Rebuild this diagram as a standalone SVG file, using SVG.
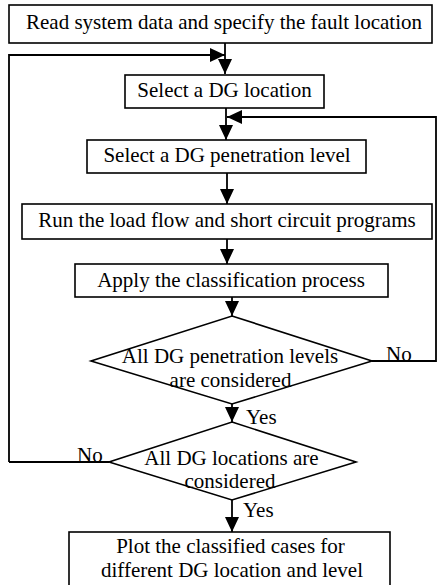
<svg xmlns="http://www.w3.org/2000/svg" width="437" height="585" viewBox="0 0 437 585">
<style>
.box{fill:#fff;stroke:#000;stroke-width:1.6}
text{font-family:'Liberation Serif','Times New Roman','DejaVu Serif',serif;font-size:21px;fill:#000}
.t{text-anchor:middle}
.c{fill:none;stroke:#000;stroke-width:1.8}
</style>
<defs>
<marker id="ah" markerWidth="16" markerHeight="14" refX="15" refY="7" orient="auto" markerUnits="userSpaceOnUse">
<path d="M0,0 L15,7 L0,14 Z" fill="#000"/>
</marker>
</defs>
<g id="connectors" font-family="Liberation Serif, serif">
<path class="c" d="M225,43 V74" marker-end="url(#ah)"/>
<path class="c" d="M9,462 V55 H225" marker-end="url(#ah)"/>
<path class="c" d="M226,108 V140" marker-end="url(#ah)"/>
<path class="c" d="M372,361 H436 V117 H227" marker-end="url(#ah)"/>
<path class="c" d="M227,173 V204" marker-end="url(#ah)"/>
<path class="c" d="M227,239 V264" marker-end="url(#ah)"/>
<path class="c" d="M232,297 V316" marker-end="url(#ah)"/>
<path class="c" d="M232,404 V422" marker-end="url(#ah)"/>
<path class="c" d="M109,462 H9"/>
<path class="c" d="M232,500 V532" marker-end="url(#ah)"/>
<text x="386" y="361">No</text>
<text x="246" y="424">Yes</text>
<text x="77" y="462">No</text>
<text x="243" y="517">Yes</text>
</g>
<g id="start">
<rect class="box" x="9" y="5" width="423" height="38"/>
<text class="t" x="224" y="29">Read system data and specify the fault location</text>
</g>
<g id="selectLocation">
<rect class="box" x="125" y="75" width="199" height="33"/>
<text class="t" x="224.5" y="97">Select a DG location</text>
</g>
<g id="selectLevel">
<rect class="box" x="87" y="140" width="279" height="33"/>
<text class="t" x="227" y="162">Select a DG penetration level</text>
</g>
<g id="runPrograms">
<rect class="box" x="22" y="204" width="410" height="35"/>
<text class="t" x="227" y="227">Run the load flow and short circuit programs</text>
</g>
<g id="classify">
<rect class="box" x="75" y="264" width="313" height="33"/>
<text class="t" x="231" y="287">Apply the classification process</text>
</g>
<g id="levelsDecision">
<polygon class="box" points="232,316 372,361 232,404 91,361"/>
<text class="t" x="230" y="363">All DG penetration levels</text>
<text class="t" x="230.5" y="387">are considered</text>
</g>
<g id="locationsDecision">
<polygon class="box" points="232,422 356,462 232,500 109,462"/>
<text class="t" x="231.5" y="465">All DG locations are</text>
<text class="t" x="230" y="488">considered</text>
</g>
<g id="plot">
<rect class="box" x="69" y="532" width="321" height="60"/>
<text class="t" x="230.5" y="553">Plot the classified cases for</text>
<text class="t" x="232" y="577">different DG location and level</text>
</g>
</svg>
